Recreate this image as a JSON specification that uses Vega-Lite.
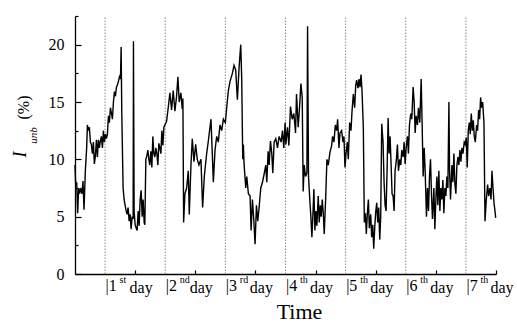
{
  "$schema": "https://vega.github.io/schema/vega-lite/v6.json",
  "width": 421,
  "height": 258,
  "autosize": {"type": "none"},
  "padding": {"left": 75, "top": 16, "right": 21, "bottom": 51},
  "background": "white",
  "config": {"view": {"stroke": null}, "axis": {"grid": false}},
  "datasets": {
    "series": [
      {"d":0.0,"v":9.5},{"d":0.011,"v":7.8},{"d":0.028,"v":8.0},{"d":0.044,"v":5.3},{"d":0.061,"v":7.5},{"d":0.078,"v":7.0},{"d":0.094,"v":7.5},{"d":0.117,"v":7.0},{"d":0.133,"v":8.1},{"d":0.150,"v":5.6},
      {"d":0.172,"v":9.0},{"d":0.194,"v":11.0},{"d":0.206,"v":13.0},{"d":0.222,"v":12.5},{"d":0.239,"v":12.8},{"d":0.256,"v":11.5},{"d":0.272,"v":11.3},{"d":0.289,"v":10.5},{"d":0.306,"v":11.5},{"d":0.322,"v":9.6},
      {"d":0.339,"v":10.3},{"d":0.356,"v":11.7},{"d":0.372,"v":10.2},{"d":0.389,"v":11.7},{"d":0.406,"v":11.0},{"d":0.422,"v":11.6},{"d":0.439,"v":12.0},{"d":0.456,"v":11.0},{"d":0.472,"v":12.5},{"d":0.489,"v":11.5},
      {"d":0.506,"v":12.2},{"d":0.522,"v":11.8},{"d":0.539,"v":12.2},{"d":0.556,"v":13.8},{"d":0.572,"v":13.2},{"d":0.589,"v":14.5},{"d":0.606,"v":14.0},{"d":0.622,"v":13.5},{"d":0.639,"v":15.0},{"d":0.656,"v":15.9},
      {"d":0.672,"v":15.5},{"d":0.689,"v":16.3},{"d":0.706,"v":16.5},{"d":0.722,"v":16.8},{"d":0.739,"v":17.2},{"d":0.756,"v":17.0},{"d":0.767,"v":19.8},{"d":0.778,"v":14.0},{"d":0.800,"v":7.5},{"d":0.817,"v":6.5},
      {"d":0.833,"v":6.0},{"d":0.850,"v":5.5},{"d":0.867,"v":5.2},{"d":0.883,"v":5.8},{"d":0.900,"v":4.6},{"d":0.917,"v":5.2},{"d":0.933,"v":3.9},{"d":0.950,"v":5.0},{"d":0.967,"v":4.8},{"d":0.972,"v":20.3},
      {"d":0.983,"v":5.5},{"d":1.000,"v":4.3},{"d":1.017,"v":4.0},{"d":1.033,"v":3.8},{"d":1.050,"v":5.5},{"d":1.067,"v":4.2},{"d":1.083,"v":6.5},{"d":1.100,"v":7.3},{"d":1.117,"v":5.0},{"d":1.133,"v":6.5},
      {"d":1.150,"v":4.5},{"d":1.161,"v":4.3},{"d":1.178,"v":10.0},{"d":1.194,"v":10.3},{"d":1.211,"v":10.8},{"d":1.228,"v":10.0},{"d":1.244,"v":9.5},{"d":1.261,"v":10.7},{"d":1.278,"v":9.3},{"d":1.294,"v":12.0},
      {"d":1.311,"v":10.5},{"d":1.328,"v":10.2},{"d":1.344,"v":11.0},{"d":1.361,"v":10.5},{"d":1.378,"v":9.5},{"d":1.394,"v":11.4},{"d":1.411,"v":11.0},{"d":1.428,"v":10.5},{"d":1.444,"v":12.5},{"d":1.461,"v":11.2},
      {"d":1.478,"v":12.8},{"d":1.494,"v":13.0},{"d":1.522,"v":13.3},{"d":1.550,"v":14.5},{"d":1.578,"v":15.8},{"d":1.606,"v":14.3},{"d":1.633,"v":16.0},{"d":1.661,"v":14.2},{"d":1.689,"v":15.5},{"d":1.711,"v":17.2},
      {"d":1.733,"v":15.0},{"d":1.761,"v":15.8},{"d":1.783,"v":14.4},{"d":1.794,"v":15.3},{"d":1.806,"v":4.5},{"d":1.828,"v":7.0},{"d":1.856,"v":7.5},{"d":1.883,"v":9.0},{"d":1.900,"v":5.2},{"d":1.928,"v":9.5},
      {"d":1.950,"v":11.8},{"d":1.978,"v":9.8},{"d":2.006,"v":11.3},{"d":2.033,"v":10.0},{"d":2.061,"v":9.5},{"d":2.094,"v":10.0},{"d":2.122,"v":5.8},{"d":2.150,"v":8.5},{"d":2.189,"v":10.5},{"d":2.217,"v":11.6},
      {"d":2.261,"v":13.5},{"d":2.283,"v":10.5},{"d":2.300,"v":8.0},{"d":2.328,"v":10.8},{"d":2.356,"v":12.0},{"d":2.383,"v":11.5},{"d":2.411,"v":13.0},{"d":2.439,"v":12.5},{"d":2.467,"v":13.5},{"d":2.500,"v":13.2},
      {"d":2.522,"v":14.5},{"d":2.550,"v":16.0},{"d":2.578,"v":16.8},{"d":2.617,"v":17.5},{"d":2.644,"v":18.2},{"d":2.672,"v":17.8},{"d":2.700,"v":15.2},{"d":2.728,"v":18.0},{"d":2.756,"v":20.0},{"d":2.772,"v":17.0},
      {"d":2.789,"v":10.0},{"d":2.800,"v":11.3},{"d":2.811,"v":9.6},{"d":2.839,"v":7.5},{"d":2.856,"v":8.5},{"d":2.883,"v":7.0},{"d":2.911,"v":6.8},{"d":2.928,"v":3.8},{"d":2.950,"v":6.5},{"d":2.972,"v":4.8},
      {"d":2.994,"v":2.6},{"d":3.017,"v":6.0},{"d":3.039,"v":4.6},{"d":3.061,"v":5.8},{"d":3.089,"v":7.5},{"d":3.117,"v":8.0},{"d":3.144,"v":8.7},{"d":3.172,"v":9.5},{"d":3.189,"v":8.0},{"d":3.211,"v":10.7},
      {"d":3.228,"v":9.5},{"d":3.250,"v":11.6},{"d":3.272,"v":10.5},{"d":3.289,"v":8.8},{"d":3.311,"v":11.5},{"d":3.339,"v":11.8},{"d":3.367,"v":11.0},{"d":3.394,"v":12.0},{"d":3.428,"v":11.5},{"d":3.450,"v":12.5},
      {"d":3.472,"v":11.0},{"d":3.494,"v":13.2},{"d":3.506,"v":11.3},{"d":3.533,"v":12.8},{"d":3.556,"v":11.2},{"d":3.583,"v":14.6},{"d":3.611,"v":13.5},{"d":3.639,"v":14.0},{"d":3.667,"v":12.3},{"d":3.683,"v":15.7},
      {"d":3.711,"v":12.8},{"d":3.739,"v":15.0},{"d":3.756,"v":16.6},{"d":3.778,"v":15.4},{"d":3.794,"v":7.2},{"d":3.811,"v":9.5},{"d":3.833,"v":8.5},{"d":3.856,"v":8.8},{"d":3.867,"v":21.6},{"d":3.883,"v":8.5},
      {"d":3.906,"v":6.3},{"d":3.922,"v":5.0},{"d":3.939,"v":3.2},{"d":3.956,"v":5.2},{"d":3.972,"v":7.4},{"d":3.989,"v":3.8},{"d":4.006,"v":5.5},{"d":4.022,"v":4.2},{"d":4.044,"v":6.8},{"d":4.061,"v":4.5},
      {"d":4.078,"v":6.0},{"d":4.094,"v":5.0},{"d":4.111,"v":6.5},{"d":4.128,"v":5.3},{"d":4.144,"v":3.5},{"d":4.167,"v":6.5},{"d":4.189,"v":10.0},{"d":4.211,"v":9.5},{"d":4.239,"v":10.6},{"d":4.267,"v":11.2},
      {"d":4.283,"v":12.0},{"d":4.306,"v":11.5},{"d":4.328,"v":13.0},{"d":4.350,"v":12.5},{"d":4.367,"v":13.5},{"d":4.389,"v":11.0},{"d":4.406,"v":12.3},{"d":4.433,"v":12.5},{"d":4.456,"v":11.5},{"d":4.472,"v":12.0},
      {"d":4.489,"v":9.3},{"d":4.506,"v":10.5},{"d":4.528,"v":11.5},{"d":4.544,"v":10.0},{"d":4.567,"v":13.2},{"d":4.589,"v":12.5},{"d":4.606,"v":14.2},{"d":4.628,"v":15.7},{"d":4.650,"v":14.5},{"d":4.667,"v":16.4},
      {"d":4.683,"v":16.9},{"d":4.706,"v":16.2},{"d":4.722,"v":17.0},{"d":4.739,"v":16.3},{"d":4.756,"v":17.4},{"d":4.772,"v":16.0},{"d":4.794,"v":12.8},{"d":4.811,"v":4.5},{"d":4.828,"v":5.3},{"d":4.844,"v":3.5},
      {"d":4.861,"v":5.3},{"d":4.878,"v":6.5},{"d":4.894,"v":4.0},{"d":4.917,"v":5.2},{"d":4.933,"v":3.2},{"d":4.950,"v":4.3},{"d":4.967,"v":2.2},{"d":4.983,"v":4.0},{"d":5.000,"v":5.4},{"d":5.017,"v":6.2},
      {"d":5.033,"v":4.5},{"d":5.050,"v":5.8},{"d":5.067,"v":3.0},{"d":5.083,"v":5.0},{"d":5.100,"v":13.1},{"d":5.122,"v":11.5},{"d":5.139,"v":8.0},{"d":5.156,"v":6.0},{"d":5.172,"v":5.5},{"d":5.189,"v":9.0},
      {"d":5.206,"v":13.6},{"d":5.222,"v":10.5},{"d":5.239,"v":12.0},{"d":5.256,"v":9.5},{"d":5.272,"v":7.0},{"d":5.289,"v":6.8},{"d":5.306,"v":5.5},{"d":5.322,"v":9.0},{"d":5.344,"v":10.0},{"d":5.361,"v":11.3},
      {"d":5.378,"v":9.0},{"d":5.400,"v":10.0},{"d":5.417,"v":9.5},{"d":5.433,"v":10.8},{"d":5.456,"v":10.2},{"d":5.472,"v":11.5},{"d":5.489,"v":9.6},{"d":5.506,"v":11.0},{"d":5.528,"v":12.0},{"d":5.544,"v":10.5},
      {"d":5.561,"v":13.0},{"d":5.583,"v":14.0},{"d":5.600,"v":13.5},{"d":5.622,"v":16.3},{"d":5.639,"v":15.0},{"d":5.656,"v":12.3},{"d":5.672,"v":13.8},{"d":5.694,"v":13.0},{"d":5.711,"v":14.5},{"d":5.733,"v":13.2},
      {"d":5.756,"v":17.0},{"d":5.772,"v":13.0},{"d":5.789,"v":8.5},{"d":5.806,"v":11.0},{"d":5.822,"v":9.0},{"d":5.844,"v":5.0},{"d":5.861,"v":7.5},{"d":5.878,"v":5.5},{"d":5.894,"v":8.5},{"d":5.911,"v":10.0},
      {"d":5.928,"v":6.8},{"d":5.944,"v":4.8},{"d":5.967,"v":7.5},{"d":5.983,"v":3.9},{"d":6.000,"v":6.5},{"d":6.017,"v":8.5},{"d":6.033,"v":6.0},{"d":6.050,"v":9.0},{"d":6.067,"v":5.5},{"d":6.083,"v":7.5},
      {"d":6.100,"v":6.5},{"d":6.117,"v":8.2},{"d":6.133,"v":5.3},{"d":6.150,"v":7.5},{"d":6.167,"v":6.8},{"d":6.183,"v":8.5},{"d":6.200,"v":7.5},{"d":6.217,"v":15.0},{"d":6.228,"v":9.0},{"d":6.244,"v":6.5},
      {"d":6.267,"v":9.5},{"d":6.283,"v":8.0},{"d":6.300,"v":10.5},{"d":6.317,"v":7.8},{"d":6.333,"v":7.0},{"d":6.350,"v":9.5},{"d":6.367,"v":10.2},{"d":6.383,"v":9.5},{"d":6.400,"v":10.8},{"d":6.417,"v":9.8},
      {"d":6.433,"v":11.0},{"d":6.450,"v":10.5},{"d":6.472,"v":11.5},{"d":6.489,"v":11.3},{"d":6.506,"v":11.9},{"d":6.522,"v":9.3},{"d":6.539,"v":12.5},{"d":6.556,"v":13.2},{"d":6.572,"v":12.2},{"d":6.589,"v":14.0},
      {"d":6.606,"v":12.5},{"d":6.622,"v":13.4},{"d":6.639,"v":12.0},{"d":6.656,"v":11.5},{"d":6.678,"v":13.0},{"d":6.694,"v":12.5},{"d":6.711,"v":14.3},{"d":6.728,"v":13.5},{"d":6.744,"v":15.4},{"d":6.761,"v":14.5},
      {"d":6.778,"v":15.0},{"d":6.800,"v":13.2},{"d":6.817,"v":4.6},{"d":6.839,"v":6.5},{"d":6.861,"v":7.8},{"d":6.878,"v":6.8},{"d":6.900,"v":7.5},{"d":6.917,"v":6.5},{"d":6.933,"v":9.0},{"d":6.950,"v":7.5},
      {"d":6.967,"v":6.2},{"d":6.983,"v":5.5},{"d":6.995,"v":4.9}
    ],
    "bounds": [{"b":0.5},{"b":1.5},{"b":2.5},{"b":3.5},{"b":4.5},{"b":5.5},{"b":6.5}]
  },
  "resolve": {"axis": {"x": "independent", "y": "independent"}},
  "layer": [
    {
      "data": {"name": "bounds"},
      "transform": [{"filter": "datum.b < 4"}],
      "mark": {"type": "rule", "color": "#888888", "strokeDash": [1.5, 1.5], "strokeWidth": 1},
      "encoding": {
        "x": {"field": "b", "type": "quantitative", "scale": {"domain": [0, 7], "nice": false, "zero": false},
          "axis": {"orient": "bottom", "values": [0.5,1.5,2.5,3.5,4.5,5.5,6.5],
            "labelExpr": "datum.value == 0.5 ? 'st' : datum.value == 1.5 ? 'nd' : datum.value == 2.5 ? 'rd' : 'th'",
            "ticks": false, "domain": false, "labelAlign": "left", "labelBaseline": "top", "labelOffset": 14, "labelPadding": 0.5,
            "labelFont": "Liberation Serif, Times New Roman, serif", "labelFontSize": 10, "labelColor": "black",
            "labelOverlap": false, "labelFlush": false, "labelBound": false, "title": null}},
        "y": {"datum": 0, "type": "quantitative", "scale": {"domain": [0, 22.5], "nice": false, "zero": true},
          "axis": {"orient": "left", "values": [2.5,7.5,12.5,17.5,22.5], "labels": false, "ticks": true, "tickSize": -3, "tickColor": "black", "tickWidth": 1.2, "domain": false,
            "title": "I", "titleFont": "Liberation Serif, Times New Roman, serif", "titleFontStyle": "italic", "titleFontWeight": "normal", "titleFontSize": 18, "titleColor": "black",
            "titleAngle": 270, "titleAlign": "center", "titleBaseline": "middle", "titleX": -55, "titleY": 138}},
        "y2": {"datum": 22.5}
      }
    },
    {
      "data": {"name": "bounds"},
      "transform": [{"filter": "datum.b > 4"}],
      "mark": {"type": "rule", "color": "#888888", "strokeDash": [1.5, 1.5], "strokeWidth": 1},
      "encoding": {
        "x": {"field": "b", "type": "quantitative", "scale": {"domain": [0, 7], "nice": false, "zero": false},
          "axis": {"orient": "bottom", "values": [0.5,1,1.5,2,2.5,3,3.5,4,4.5,5,5.5,6,6.5,7],
            "labelExpr": "datum.value % 1 == 0.5 ? 'day' : ''",
            "ticks": true, "tickSize": -4, "tickColor": "black", "tickWidth": 1.2,
            "tickOpacity": {"condition": {"test": "datum.value % 1 == 0", "value": 1}, "value": 0},
            "domain": false, "labelAlign": "left", "labelBaseline": "top", "labelOffset": 24, "labelPadding": 9,
            "labelFont": "Liberation Serif, Times New Roman, serif", "labelFontSize": 16, "labelColor": "black",
            "labelOverlap": false, "labelFlush": false, "labelBound": false, "title": null}},
        "y": {"datum": 0, "type": "quantitative", "scale": {"domain": [0, 22.5], "nice": false, "zero": true},
          "axis": {"orient": "left", "labels": false, "ticks": false, "domain": false,
            "title": "unb", "titleFont": "Liberation Serif, Times New Roman, serif", "titleFontStyle": "italic", "titleFontWeight": "normal", "titleFontSize": 11, "titleColor": "black",
            "titleAngle": 270, "titleAlign": "center", "titleBaseline": "middle", "titleX": -42, "titleY": 119}},
        "y2": {"datum": 22.5}
      }
    },
    {
      "data": {"name": "series"},
      "mark": {"type": "line", "color": "black", "strokeWidth": 1.4, "interpolate": "linear"},
      "encoding": {
        "x": {"field": "d", "type": "quantitative", "scale": {"domain": [0, 7], "nice": false, "zero": false},
          "axis": {"orient": "bottom", "values": [0.5,1.5,2.5,3.5,4.5,5.5,6.5],
            "labelExpr": "'|' + (datum.value + 0.5)",
            "ticks": false, "domain": true, "domainColor": "black", "domainWidth": 1.3,
            "labelAlign": "left", "labelBaseline": "top", "labelPadding": 3,
            "labelFont": "Liberation Serif, Times New Roman, serif", "labelFontSize": 16, "labelColor": "black",
            "labelOverlap": false, "labelFlush": false, "labelBound": false,
            "title": "Time", "titleFont": "Liberation Serif, Times New Roman, serif", "titleFontSize": 22, "titleFontWeight": "normal", "titleColor": "black",
            "titleX": 224, "titleY": 44, "titleAlign": "center", "titleBaseline": "alphabetic"}},
        "y": {"field": "v", "type": "quantitative", "scale": {"domain": [0, 22.5], "nice": false, "zero": true},
          "axis": {"orient": "left", "values": [0,5,10,15,20], "format": "d",
            "ticks": true, "tickSize": -6, "tickColor": "black", "tickWidth": 1.2,
            "domain": true, "domainColor": "black", "domainWidth": 1.3,
            "labelPadding": 17, "labelFont": "Liberation Serif, Times New Roman, serif", "labelFontSize": 16, "labelColor": "black",
            "labelOverlap": false, "labelBound": false, "labelFlush": false,
            "title": "(%)", "titleFont": "Liberation Serif, Times New Roman, serif", "titleFontSize": 16, "titleFontWeight": "normal", "titleColor": "black",
            "titleAngle": 270, "titleAlign": "center", "titleBaseline": "middle", "titleX": -52, "titleY": 91}}
      }
    }
  ]
}
